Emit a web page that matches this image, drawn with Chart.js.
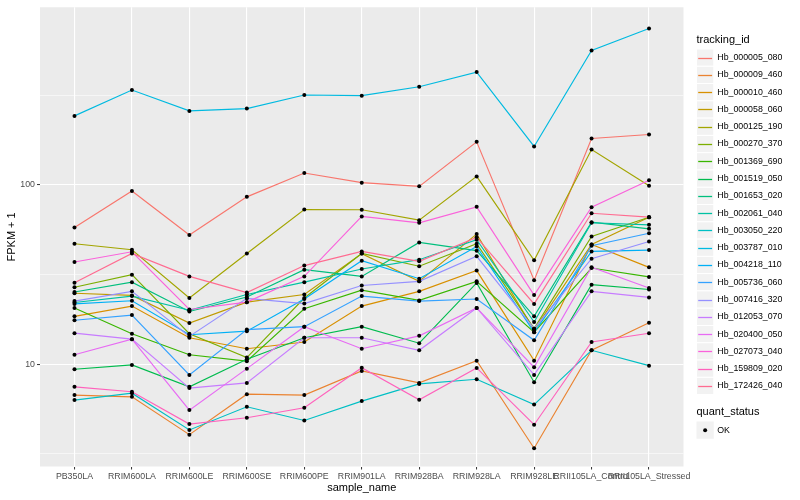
<!DOCTYPE html>
<html>
<head>
<meta charset="utf-8">
<script src="https://cdn.jsdelivr.net/npm/chart.js@4.4.0/dist/chart.umd.min.js"></script>
<style>
  html, body { margin: 0; padding: 0; background: #fff; }
  #wrap { width: 800px; height: 500px; }
</style>
</head>
<body>
<div id="wrap"><canvas id="fpkmChart" width="800" height="500"></canvas></div>
<script>
// --- data (FPKM + 1) ---
const samples = ["PB350LA", "RRIM600LA", "RRIM600LE", "RRIM600SE", "RRIM600PE", "RRIM901LA",
                 "RRIM928BA", "RRIM928LA", "RRIM928LE", "RRII105LA_Control", "RRII105LA_Stressed"];

const trackingIds = ["Hb_000005_080", "Hb_000009_460", "Hb_000010_460", "Hb_000058_060", "Hb_000125_190",
                     "Hb_000270_370", "Hb_001369_690", "Hb_001519_050", "Hb_001653_020", "Hb_002061_040",
                     "Hb_003050_220", "Hb_003787_010", "Hb_004218_110", "Hb_005736_060", "Hb_007416_320",
                     "Hb_012053_070", "Hb_020400_050", "Hb_027073_040", "Hb_159809_020", "Hb_172426_040"];

const lineColors = ["#F8766D", "#EA8331", "#D89000", "#C09B00", "#A3A500", "#7CAE00", "#39B600", "#00BB4E",
                    "#00BF7D", "#00C1A3", "#00BFC4", "#00BAE0", "#00B0F6", "#35A2FF", "#9590FF", "#C77CFF",
                    "#E76BF3", "#FA62DB", "#FF62BC", "#FF6C91"];

const hb000005_080 = [57.9, 92.6, 52.6, 85.8, 116.6, 103.0, 98.2, 174.0, 29.4, 181.5, 191.1];
const hb000009_460 = [6.73, 6.58, 4.05, 6.81, 6.73, 9.18, 7.87, 10.47, 3.40, 11.96, 17.02];
const hb000010_460 = [18.5, 21.1, 14.05, 12.2, 13.3, 21.1, 25.5, 33.3, 10.47, 46.6, 34.7];
const hb000058_060 = [24.9, 24.2, 16.96, 22.2, 24.5, 41.4, 29.0, 53.2, 15.5, 46.6, 66.1];
const hb000125_190 = [47.0, 43.5, 23.4, 41.5, 72.9, 72.7, 63.6, 111.6, 38.0, 157.7, 99.1];
const hb000270_370 = [26.9, 31.6, 14.8, 10.9, 23.4, 41.5, 35.2, 47.0, 15.8, 51.6, 66.1];
const hb001369_690 = [20.6, 14.8, 11.3, 10.4, 20.4, 25.9, 22.7, 29.0, 15.1, 34.4, 30.7];
const hb001519_050 = [9.38, 9.91, 7.48, 10.66, 14.05, 16.2, 13.1, 28.4, 7.94, 27.8, 26.1];
const hb001653_020 = [25.3, 28.7, 19.7, 23.7, 33.7, 30.9, 47.8, 43.0, 18.5, 62.0, 56.9];
const hb002061_040 = [22.1, 24.0, 20.0, 24.5, 28.7, 34.0, 38.3, 49.5, 17.2, 61.5, 59.9];
const hb003050_220 = [6.31, 6.90, 4.30, 5.79, 4.86, 6.23, 7.77, 8.25, 5.96, 11.96, 9.82];
const hb003787_010 = [242.7, 338.3, 258.8, 266.5, 317.5, 314.7, 353.0, 425.9, 163.9, 562.3, 745.2];
const hb004218_110 = [21.7, 22.6, 14.6, 15.3, 23.1, 37.8, 30.0, 45.4, 15.1, 42.6, 43.3];
const hb005736_060 = [17.6, 18.8, 8.72, 15.6, 16.2, 24.0, 22.5, 23.1, 13.6, 45.8, 53.8];
const hb007416_320 = [22.5, 25.5, 14.3, 23.3, 21.8, 27.5, 29.0, 40.0, 15.8, 38.8, 48.4];
const hb012053_070 = [14.9, 13.8, 7.36, 7.87, 14.05, 14.05, 11.96, 20.6, 8.72, 25.5, 23.6];
const hb020400_050 = [11.3, 13.8, 5.55, 9.45, 16.2, 12.2, 14.4, 20.6, 9.62, 34.8, 26.6];
const hb027073_040 = [37.2, 42.4, 20.2, 22.2, 30.9, 66.7, 61.5, 75.5, 24.3, 75.1, 106.1];
const hb159809_020 = [7.48, 7.02, 4.64, 5.03, 5.72, 9.57, 6.33, 9.54, 4.60, 13.3, 14.9];
const hb172426_040 = [28.5, 41.5, 30.9, 25.1, 35.5, 42.6, 37.5, 51.0, 21.7, 69.5, 66.1];

const seriesValues = [hb000005_080, hb000009_460, hb000010_460, hb000058_060, hb000125_190,
                      hb000270_370, hb001369_690, hb001519_050, hb001653_020, hb002061_040,
                      hb003050_220, hb003787_010, hb004218_110, hb005736_060, hb007416_320,
                      hb012053_070, hb020400_050, hb027073_040, hb159809_020, hb172426_040];

const yMajorTicks = [10, 100];
const yMinorTicks = [3.1623, 31.623, 316.23];

const FONT = '"Liberation Sans", Arial, sans-serif';
Chart.defaults.font.family = FONT;

// --- grey panel behind the grid ---
const panelBg = {
    id: "panelBg",
    beforeDraw(chart) {
        const { ctx, chartArea: a } = chart;
        ctx.save();
        ctx.fillStyle = "#FFFFFF";
        ctx.fillRect(0, 0, chart.width, chart.height);
        ctx.fillStyle = "#EBEBEB";
        ctx.fillRect(a.left, a.top, a.right - a.left, a.bottom - a.top);
        ctx.restore();
    }
};

// --- black points drawn over all the lines (like geom_point after geom_line) ---
const pointsOnTop = {
    id: "pointsOnTop",
    afterDatasetsDraw(chart) {
        const ctx = chart.ctx;
        ctx.save();
        ctx.fillStyle = "#000000";
        chart.data.datasets.forEach((ds, i) => {
            chart.getDatasetMeta(i).data.forEach(pt => {
                ctx.beginPath();
                ctx.arc(pt.x, pt.y, 2, 0, Math.PI * 2);
                ctx.fill();
            });
        });
        ctx.restore();
    }
};

// --- ggplot style legends on the right ---
const ggLegend = {
    id: "ggLegend",
    afterDraw(chart) {
        const ctx = chart.ctx;
        const x0 = 696.5, key = 17.28;
        ctx.save();
        ctx.textAlign = "left";
        ctx.textBaseline = "middle";
        ctx.fillStyle = "#000000";
        ctx.font = "11px " + FONT;
        ctx.fillText("tracking_id", x0, 39.5);

        chart.data.datasets.forEach((ds, i) => {
            const top = 49 + i * key;
            const mid = Math.round(top + key / 2) + 0.5;
            ctx.fillStyle = "#F2F2F2";
            ctx.fillRect(x0, top, key, key);
            ctx.strokeStyle = "#FFFFFF";
            ctx.lineWidth = 1;
            ctx.strokeRect(x0, top, key, key);
            ctx.strokeStyle = ds.borderColor;
            ctx.lineWidth = 1.3;
            ctx.beginPath();
            ctx.moveTo(x0 + 1.7, mid);
            ctx.lineTo(x0 + key - 1.7, mid);
            ctx.stroke();
            ctx.fillStyle = "#000000";
            ctx.font = "8.8px " + FONT;
            ctx.fillText(ds.label, x0 + key + 3.5, top + key / 2);
        });

        ctx.font = "11px " + FONT;
        ctx.fillText("quant_status", x0, 412);
        const top2 = 421.5;
        ctx.fillStyle = "#F2F2F2";
        ctx.fillRect(x0, top2, key, key);
        ctx.fillStyle = "#000000";
        ctx.beginPath();
        ctx.arc(x0 + key / 2, top2 + key / 2, 2, 0, Math.PI * 2);
        ctx.fill();
        ctx.font = "8.8px " + FONT;
        ctx.fillText("OK", x0 + key + 3.5, top2 + key / 2);
        ctx.restore();
    }
};

// --- Chart.js setup ---
const datasets = trackingIds.map((id, i) => ({
    label: id,
    data: seriesValues[i].map((v, j) => ({ x: j, y: v })),
    borderColor: lineColors[i],
    backgroundColor: lineColors[i],
    borderWidth: 1.15,
    pointRadius: 0,
    fill: false,
    tension: 0,
    order: trackingIds.length - i
}));

const ctx = document.getElementById("fpkmChart").getContext("2d");
const fpkmChart = new Chart(ctx, {
    type: "line",
    data: { datasets: datasets },
    options: {
        responsive: false,
        animation: false,
        devicePixelRatio: 1,
        layout: { padding: { top: 5.5, right: 116.5, bottom: 0, left: 0 } },
        plugins: { legend: { display: false }, tooltip: { enabled: false } },
        scales: {
            x: {
                type: "linear",
                min: -0.6,
                max: 10.6,
                afterBuildTicks: s => { s.ticks = samples.map((_, i) => ({ value: i })); },
                afterFit: s => { s.height = 33.5; },
                ticks: {
                    autoSkip: false, maxRotation: 0, minRotation: 0, padding: 2,
                    color: "#4D4D4D", font: { size: 8.8 },
                    callback: v => samples[v]
                },
                grid: { color: "#FFFFFF", lineWidth: 1.1, tickColor: "#333333", tickLength: 3, tickWidth: 1 },
                border: { display: false },
                title: { display: true, text: "sample_name", color: "#000000", font: { size: 11 }, padding: { top: 0, bottom: 5 } }
            },
            y: {
                type: "logarithmic",
                min: 2.69,
                max: 979,
                afterBuildTicks: s => {
                    s.ticks = yMinorTicks.concat(yMajorTicks).sort((a, b) => a - b).map(v => ({ value: v }));
                },
                afterFit: s => { s.width = 40; },
                ticks: {
                    autoSkip: false, padding: 2, color: "#4D4D4D", font: { size: 8.8 },
                    callback: v => yMajorTicks.includes(v) ? String(v) : ""
                },
                grid: {
                    color: "#FFFFFF",
                    lineWidth: c => yMajorTicks.includes(c.tick && c.tick.value) ? 1.1 : 0.55,
                    tickColor: c => yMajorTicks.includes(c.tick && c.tick.value) ? "#333333" : "rgba(0,0,0,0)",
                    tickWidth: 1,
                    tickLength: 3
                },
                border: { display: false },
                title: { display: true, text: "FPKM + 1", color: "#000000", font: { size: 11 }, padding: { top: 5, bottom: 0 } }
            }
        }
    },
    plugins: [panelBg, pointsOnTop, ggLegend]
});
</script>
</body>
</html>
